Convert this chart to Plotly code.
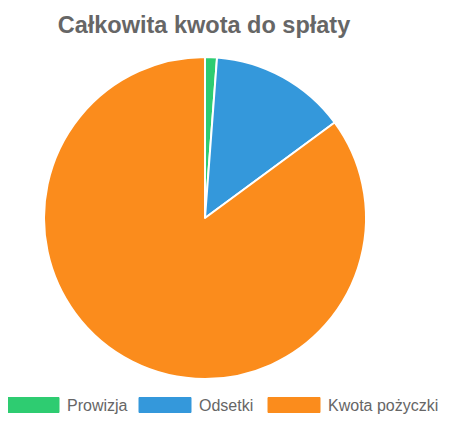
import plotly.graph_objects as go

labels = ["Prowizja", "Odsetki", "Kwota pożyczki"]
values = [140, 1610, 10000]
colors = ["#2ecc71", "#3498db", "#fb8c1c"]
title_text = "Całkowita kwota do spłaty"

W, H = 454, 422
OFF = 8  # page body margin offset
cx, cy, r = 205 - OFF, 218 - OFF, 161

fig = go.Figure(go.Pie(
    labels=labels, values=values, sort=False, direction="clockwise", rotation=0,
    marker=dict(colors=colors, line=dict(color="white", width=2)),
    textinfo="none", hoverinfo="label+value",
    domain=dict(x=[(cx - r) / W, (cx + r) / W], y=[1 - (cy + r) / H, 1 - (cy - r) / H]),
    showlegend=False,
))

# custom legend (wide swatches like the reference)
legend_x = [7, 139, 268]
box_w, box_h, leg_y = 52, 15, 405 - OFF
shapes, annos = [], []
for lab, col, xx in zip(labels, colors, legend_x):
    x0 = xx - OFF
    shapes.append(dict(type="rect", xref="paper", yref="paper",
                       x0=x0 / W, x1=(x0 + box_w) / W,
                       y0=1 - (leg_y + box_h / 2) / H, y1=1 - (leg_y - box_h / 2) / H,
                       fillcolor=col, line=dict(color=col, width=1)))
    annos.append(dict(text=lab, xref="paper", yref="paper", x=(x0 + box_w + 6) / W,
                      y=1 - leg_y / H, xanchor="left", yanchor="middle", showarrow=False,
                      font=dict(family="Liberation Sans, Arial", size=16, color="#666")))

fig.update_layout(
    width=W, height=H, margin=dict(l=0, r=0, t=0, b=0),
    paper_bgcolor="white", plot_bgcolor="white",
    title=dict(text="<b>" + title_text + "</b>", x=(204 - OFF) / W, xanchor="center",
               y=1 - (25 - OFF) / H, yanchor="middle",
               font=dict(family="Liberation Sans, Arial", size=23.5, color="#666")),
    shapes=shapes, annotations=annos,
)
fig.write_html("out.html")
